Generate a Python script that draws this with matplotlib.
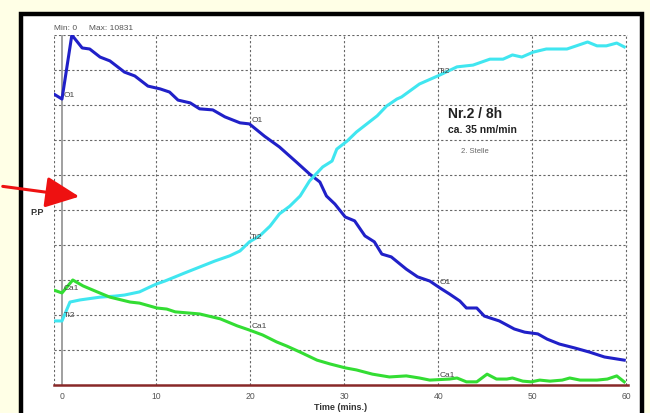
import numpy as np
import matplotlib
matplotlib.use("Agg")
import matplotlib.pyplot as plt
from matplotlib.patches import Rectangle, FancyArrowPatch

plt.rcParams['font.family'] = ['Liberation Sans', 'DejaVu Sans']

# Werte in % vom Maximum (Max = 10831)
o1_t = [-0.9, -0.05, 1.0, 2.1, 2.9, 4.0, 5.05, 6.6, 7.7, 9.1, 10.4, 11.4, 12.3, 13.6,
        14.6, 16.0, 17.3, 18.9, 19.9, 21.5, 23.1, 24.9, 26.3, 27.4, 28.1, 29.0, 30.1,
        31.1, 32.2, 33.2, 34.0, 35.0, 36.6, 37.8, 39.1, 40.2, 41.2, 42.3, 43.0, 44.1,
        44.9, 46.5, 48.1, 49.2, 50.6, 51.6, 52.9, 54.5, 56.1, 57.7, 59.8]
o1_v = [83.1, 81.7, 100, 96.3, 96.0, 93.7, 92.6, 89.4, 88.3, 85.4, 84.6, 83.7, 81.4, 80.6,
        78.9, 78.6, 76.6, 74.9, 74.6, 71.1, 68.0, 63.7, 60.3, 58.0, 54.0, 51.7, 48.0,
        46.9, 42.6, 40.9, 37.4, 36.6, 33.1, 30.9, 29.7, 27.7, 26.0, 24.0, 22.0, 22.0,
        19.7, 18.3, 16.0, 15.1, 14.6, 13.1, 11.7, 10.6, 9.4, 8.0, 7.1]

ti2_t = [-0.9, -0.05, 0.8, 1.86, 4.0, 5.6, 6.6, 8.2, 9.3, 10.05, 10.9, 12.0, 13.0, 14.6,
         16.2, 17.8, 18.9, 19.9, 21.0, 22.1, 23.1, 24.2, 25.3, 26.3, 27.7, 28.7, 29.2,
         30.3, 31.3, 32.4, 33.5, 34.5, 35.6, 36.1, 38.0, 40.2, 42.0, 43.7, 45.5, 46.9,
         47.9, 48.9, 50.1, 51.5, 53.7, 54.7, 55.9, 56.9, 57.9, 59.0, 59.8]
ti2_v = [18.3, 18.3, 23.7, 24.3, 25.1, 25.4, 25.7, 26.6, 28.0, 28.9, 29.7, 30.9, 32.0, 33.7,
         35.4, 36.9, 38.3, 40.9, 42.6, 45.4, 48.9, 51.1, 54.0, 58.3, 62.3, 64.0, 67.4,
         69.7, 72.3, 74.6, 76.9, 79.7, 81.7, 82.3, 86.0, 88.6, 90.9, 91.4, 93.1, 93.1,
         94.3, 93.7, 95.1, 96.0, 96.0, 96.9, 98.0, 96.9, 96.9, 97.7, 96.6]

ca1_t = [-0.9, -0.05, 1.1, 2.2, 3.7, 5.05, 7.2, 8.2, 10.05, 11.1, 12.0, 14.6, 16.8, 18.6,
         19.9, 21.3, 22.8, 23.9, 25.3, 27.1, 28.5, 30.1, 31.3, 33.0, 34.8, 36.6, 38.0,
         39.1, 41.2, 42.0, 43.0, 44.1, 45.2, 46.2, 47.3, 47.9, 49.0, 49.9, 50.8, 51.9,
         53.2, 54.0, 55.1, 56.9, 58.0, 59.0, 59.8]
ca1_v = [27.1, 26.3, 30.0, 28.3, 26.6, 25.1, 23.7, 23.4, 22.0, 21.7, 20.9, 20.3, 18.9, 16.9,
         15.7, 14.3, 12.3, 11.1, 9.4, 7.1, 6.0, 4.9, 4.3, 3.1, 2.3, 2.6, 2.0,
         1.4, 1.7, 2.0, 0.9, 0.9, 3.1, 1.7, 1.7, 2.0, 1.1, 0.9, 1.4, 1.1,
         1.4, 2.0, 1.4, 1.4, 1.7, 2.6, 0.9]

xticks = [0, 10, 20, 30, 40, 50, 60]
label_t = [0, 20, 40]

fig = plt.figure(figsize=(6.5, 4.14), dpi=100)
fig.patch.set_facecolor('#ffffe6')

# schwarzer Rahmen
rahmen = Rectangle((21/650, -0.1), 621/650, 1.1 - 14.5/414, transform=fig.transFigure,
                   facecolor='white', edgecolor='black', lw=3.2, zorder=-10)
fig.patches.append(rahmen)

ax = fig.add_axes([54/650, 1-386/414, 574/650, 350/414])
ax.set_facecolor('none')
ax.set_xlim(-0.9, 60.2)
ax.set_ylim(0, 100)

for s in ax.spines.values():
    s.set_visible(False)

grid_kw = dict(color='#666666', lw=0.8, ls=(0, (2, 2)), zorder=1)
for y in range(10, 101, 10):
    ax.axhline(y, **grid_kw)
for x in [-0.9] + xticks[1:]:
    ax.axvline(x, **grid_kw)
ax.axvline(0, color='#999999', lw=1.3, zorder=1)
ax.axhline(0, color='#882828', lw=1.8, zorder=5, clip_on=False)

ax.plot(o1_t, o1_v, color='#2020c8', lw=2.2, zorder=3)
ax.plot(ti2_t, ti2_v, color='#40e6f0', lw=2.2, zorder=3)
ax.plot(ca1_t, ca1_v, color='#33dd33', lw=2.2, zorder=3)

# Kurvenbeschriftungen
for name, t, v in [('O1', o1_t, o1_v), ('Ti2', ti2_t, ti2_v), ('Ca1', ca1_t, ca1_v)]:
    for lt in label_t:
        yy = np.interp(lt, t, v)
        ax.text(lt + 0.1, yy + 0.5, name, fontsize=6, color='#444444', zorder=4,
                va='bottom' if name != 'O1' or lt != 0 else 'center')

ax.set_xticks(xticks)
ax.set_xticklabels([str(x) for x in xticks], fontsize=6.2, color='#555555')
ax.tick_params(axis='x', length=0, pad=4)
ax.set_yticks([])
ax.set_xlabel('Time (mins.)', fontsize=6.5, fontweight='bold', color='#333333', labelpad=2)

fig.text(37/650, 1-213/414, 'P.P', fontsize=6.5, fontweight='bold', color='#333333',
         ha='center', va='center')
fig.text(54/650, 1-29/414, 'Min: 0     Max: 10831', fontsize=6, color='#555555',
         ha='left', va='center')

ax.text(41.0, 76.5, 'Nr.2 / 8h', fontsize=10, fontweight='bold', color='#222222')
ax.text(41.0, 72.3, 'ca. 35 nm/min', fontsize=7.5, fontweight='bold', color='#222222')
ax.text(42.4, 66.5, '2. Stelle', fontsize=5.5, color='#666666')

# roter Pfeil
fig.patches.append(FancyArrowPatch(
    (0, 1-187/414), (82/650, 1-198/414), transform=fig.transFigure,
    arrowstyle='-|>,head_length=1.3,head_width=0.6', mutation_scale=16,
    color='#ee1111', lw=2.2, zorder=10))

fig.savefig('out.png', dpi=100, facecolor=fig.get_facecolor())
